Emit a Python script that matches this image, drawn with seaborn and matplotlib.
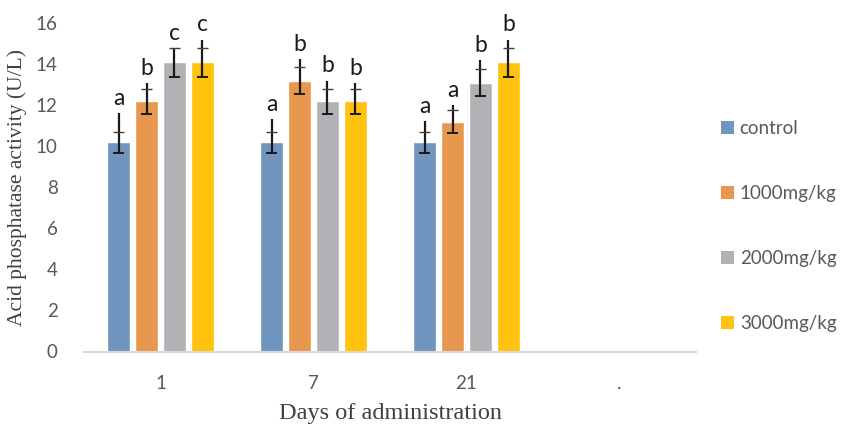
import numpy as np
import pandas as pd
import matplotlib
matplotlib.use("Agg")
import matplotlib.pyplot as plt
import seaborn as sns
from matplotlib.patches import Patch

days = ["1", "7", "21"]
axis_categories = ["1", "7", "21", "."]
groups = ["control", "1000mg/kg", "2000mg/kg", "3000mg/kg"]
colors = ["#7096c0", "#e8974f", "#b1b2b5", "#ffc20e"]

control = [10.2, 10.2, 10.2]
dose_1000 = [12.2, 13.2, 11.2]
dose_2000 = [14.1, 12.2, 13.1]
dose_3000 = [14.1, 12.2, 14.1]

sd_control = [0.52, 0.52, 0.52]
sd_1000 = [0.60, 0.66, 0.56]
sd_2000 = [0.70, 0.60, 0.66]
sd_3000 = [0.70, 0.60, 0.70]

up_control = [1.43, 1.14, 1.03]
up_1000 = [0.87, 1.06, 0.83]
up_2000 = [0.70, 1.01, 1.10]
up_3000 = [1.11, 0.87, 1.11]

letters_control = ["a", "a", "a"]
letters_1000 = ["b", "b", "a"]
letters_2000 = ["c", "b", "b"]
letters_3000 = ["c", "b", "b"]

yticks = [0, 2, 4, 6, 8, 10, 12, 14, 16]

values = [control, dose_1000, dose_2000, dose_3000]
sds = [sd_control, sd_1000, sd_2000, sd_3000]
ups = [up_control, up_1000, up_2000, up_3000]
letters = [letters_control, letters_1000, letters_2000, letters_3000]

rows = []
for g, vals in zip(groups, values):
    for d, v in zip(days, vals):
        rows.append({"day": d, "group": g, "value": v})
df = pd.DataFrame(rows)

sns.set_theme(style="white")
plt.rcParams["font.family"] = ["Lato", "DejaVu Sans"]

fig = plt.figure(figsize=(8.44, 4.25), dpi=100)
ax = fig.add_axes([84 / 844, 1 - 351.5 / 425, (696 - 84) / 844, (351.5 - 23.3) / 425])

sns.barplot(data=df, x="day", y="value", hue="group", order=axis_categories,
            hue_order=groups, palette=colors, width=0.732, gap=0.21,
            errorbar=None, ax=ax, legend=False, saturation=1)

for gi, cont in enumerate(ax.containers):
    for di, p in enumerate(cont.patches):
        xc = p.get_x() + p.get_width() / 2
        v = values[gi][di]
        sd = sds[gi][di]
        up = ups[gi][di]
        ax.vlines(xc, v - sd, v + up, color="#1a1a1a", lw=1.6, zorder=4)
        ax.hlines(v - sd, xc - 0.035, xc + 0.035, color="#1a1a1a", lw=1.4, zorder=4)
        ax.hlines(v + sd, xc - 0.035, xc + 0.035, color="#404040", lw=1.0, zorder=4)
        ax.annotate(letters[gi][di], (xc, v + up), xytext=(0, 3),
                    textcoords="offset points", ha="center", va="bottom",
                    fontsize=16.5, color="#1a1a1a")

ax.set_ylim(0, 16)
ax.set_xlim(-0.5, 3.5)
ax.set_yticks(yticks)
ax.set_yticklabels([str(t) for t in yticks])
ax.tick_params(axis="both", length=0, labelsize=13.5, colors="#595959")
ax.tick_params(axis="y", pad=19)
ax.tick_params(axis="x", pad=17)
for s in ["top", "right", "left"]:
    ax.spines[s].set_visible(False)
ax.spines["bottom"].set_color("#d9d9d9")
ax.spines["bottom"].set_linewidth(1.5)

ax.set_xlabel("Days of administration", fontsize=17.5, family=["Liberation Serif"],
              color="#404040", labelpad=8)
ax.set_ylabel("Acid phosphatase activity (U/L)", fontsize=15.5,
              family=["Liberation Serif"], color="#404040", labelpad=6)

handles = [Patch(facecolor=c, edgecolor="none", label=g) for g, c in zip(groups, colors)]
fig.legend(handles=handles, loc="center left", bbox_to_anchor=(712 / 844, 1 - 226 / 425),
           frameon=False, fontsize=13.5, labelcolor="#595959", labelspacing=2.55,
           handlelength=0.68, handleheight=0.68, handletextpad=0.3, borderpad=0)

fig.savefig("out.png", dpi=100)
